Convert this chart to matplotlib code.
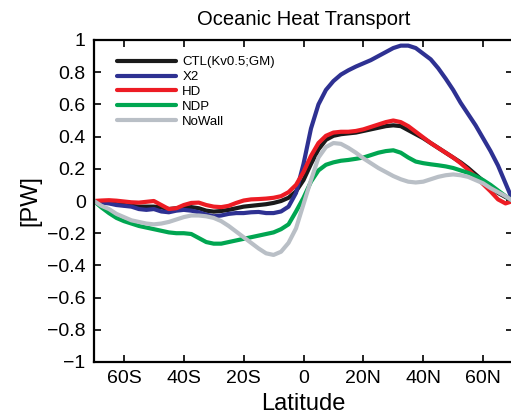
import matplotlib
matplotlib.use('Agg')
import matplotlib.pyplot as plt

plt.rcParams['font.family'] = ['Liberation Sans', 'DejaVu Sans']

# latitude grid (deg, negative = south)
lat = [-70, -67.5, -65, -62.5, -60, -57.5, -55, -52.5, -50, -47.5, -45, -42.5,
       -40, -37.5, -35, -32.5, -30, -27.5, -25, -22.5, -20, -17.5, -15, -12.5,
       -10, -7.5, -5, -2.5, 0, 2.5, 5, 7.5, 10, 12.5, 15, 17.5, 20, 22.5, 25,
       27.5, 30, 32.5, 35, 37.5, 40, 42.5, 45, 47.5, 50, 52.5, 55, 57.5, 60,
       62.5, 65, 67.5, 70]

# heat transport [PW]
ctl = [0, -0.005, -0.01, -0.02, -0.025, -0.03, -0.035, -0.035, -0.035, -0.04,
       -0.05, -0.045, -0.04, -0.038, -0.045, -0.06, -0.066, -0.062, -0.055,
       -0.045, -0.035, -0.03, -0.025, -0.02, -0.012, 0.0, 0.02, 0.06, 0.13,
       0.23, 0.32, 0.38, 0.405, 0.415, 0.42, 0.425, 0.435, 0.445, 0.455, 0.465,
       0.47, 0.465, 0.44, 0.415, 0.39, 0.36, 0.33, 0.30, 0.27, 0.24, 0.205,
       0.165, 0.125, 0.085, 0.05, 0.025, 0]
x2 = [0, -0.01, -0.015, -0.025, -0.03, -0.035, -0.05, -0.055, -0.05, -0.065,
      -0.07, -0.06, -0.055, -0.06, -0.07, -0.085, -0.095, -0.09, -0.08, -0.075,
      -0.075, -0.07, -0.068, -0.075, -0.075, -0.065, -0.035, 0.05, 0.23, 0.45,
      0.60, 0.69, 0.745, 0.785, 0.812, 0.835, 0.855, 0.875, 0.9, 0.925, 0.95,
      0.965, 0.965, 0.95, 0.915, 0.88, 0.825, 0.76, 0.69, 0.61, 0.54, 0.47,
      0.39, 0.31, 0.22, 0.11, 0]
hd = [0, 0.003, 0.005, 0.002, -0.003, -0.008, -0.01, -0.005, 0.0, -0.025,
      -0.05, -0.045, -0.025, -0.012, -0.01, -0.025, -0.035, -0.038, -0.03,
      -0.012, 0.003, 0.01, 0.012, 0.015, 0.02, 0.03, 0.055, 0.1, 0.18, 0.28,
      0.36, 0.405, 0.425, 0.43, 0.43, 0.435, 0.445, 0.46, 0.475, 0.49, 0.5,
      0.49, 0.465, 0.43, 0.395, 0.36, 0.33, 0.3, 0.27, 0.235, 0.195, 0.15,
      0.105, 0.06, 0.01, -0.015, 0]
ndp = [0, -0.04, -0.075, -0.105, -0.125, -0.14, -0.155, -0.165, -0.175,
       -0.185, -0.195, -0.2, -0.2, -0.205, -0.23, -0.255, -0.265, -0.265,
       -0.255, -0.245, -0.235, -0.225, -0.215, -0.205, -0.195, -0.175, -0.145,
       -0.065, 0.02, 0.12, 0.19, 0.225, 0.24, 0.25, 0.255, 0.262, 0.27, 0.285,
       0.3, 0.31, 0.315, 0.3, 0.27, 0.245, 0.235, 0.228, 0.222, 0.215, 0.205,
       0.19, 0.175, 0.155, 0.13, 0.1, 0.065, 0.03, 0]
nowall = [0, -0.03, -0.05, -0.08, -0.1, -0.12, -0.13, -0.14, -0.145, -0.14,
          -0.13, -0.115, -0.1, -0.09, -0.09, -0.095, -0.105, -0.125, -0.155,
          -0.19, -0.225, -0.26, -0.295, -0.325, -0.335, -0.315, -0.26, -0.17,
          -0.02, 0.13, 0.27, 0.335, 0.36, 0.355, 0.33, 0.3, 0.265, 0.235,
          0.205, 0.18, 0.155, 0.135, 0.12, 0.115, 0.12, 0.135, 0.15, 0.16,
          0.165, 0.16, 0.15, 0.13, 0.11, 0.08, 0.055, 0.03, 0]

labels = ['CTL(Kv0.5;GM)', 'X2', 'HD', 'NDP', 'NoWall']
colors = ['#1a1a1a', '#2e3192', '#ed1c24', '#00a651', '#b9bfc6']

xticks = [-60, -40, -20, 0, 20, 40, 60]
xticklabels = ['60S', '40S', '20S', '0', '20N', '40N', '60N']
yticks = [1, 0.8, 0.6, 0.4, 0.2, 0, -0.2, -0.4, -0.6, -0.8, -1]
yticklabels = ['1', '0.8', '0.6', '0.4', '0.2', '0',
               '\u22120.2', '\u22120.4', '\u22120.6', '\u22120.8', '\u22121']

fig = plt.figure(figsize=(5.11, 4.2), dpi=100)
ax = fig.add_axes([94 / 511, 1 - 362 / 420, 419 / 511, 322 / 420])

for series, lab, col in zip([ctl, x2, hd, ndp, nowall], labels, colors):
    ax.plot(lat, series, color=col, lw=3, label=lab, solid_capstyle='round',
            solid_joinstyle='round')

ax.set_xlim(-70, 70)
ax.set_ylim(-1, 1)
ax.set_xticks(xticks)
ax.set_xticklabels(xticklabels)
ax.set_yticks(yticks)
ax.set_yticklabels(yticklabels)
ax.tick_params(direction='in', length=5, width=1.2, labelsize=14,
               top=True, right=True, pad=6)
for sp in ax.spines.values():
    sp.set_linewidth(1.6)

ax.set_xlabel('Latitude', fontsize=17, labelpad=4)
ax.set_ylabel('[PW]', fontsize=17, labelpad=4)
ax.set_title('Oceanic Heat Transport', fontsize=14.5, pad=11)

ax.legend(loc='upper left', bbox_to_anchor=(0.055, 0.95), frameon=False,
          fontsize=9.5, handlelength=4.5, handletextpad=0.45,
          labelspacing=0.2, borderpad=0, borderaxespad=0)

fig.savefig('out.png', dpi=100)
